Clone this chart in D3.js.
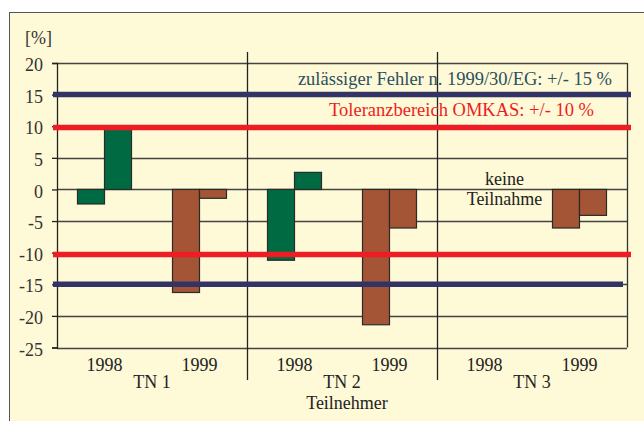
<!DOCTYPE html>
<html>
<head>
<meta charset="utf-8">
<script src="https://cdn.jsdelivr.net/npm/d3@7"></script>
<style>
  body { margin: 0; background: #fff; }
  svg text { font-family: "Liberation Serif", "Times New Roman", serif; }
</style>
</head>
<body>
<svg id="chart" width="644" height="421"></svg>
<script>
'use strict';
/*
 *	Data
 */
var groups = ["TN 1", "TN 2", "TN 3"];
var years = ["1998", "1999"];
// first and second bar of each year (null = keine Teilnahme)
var barA = [-2.3, -16.3, -11.2, -21.4, null, -6.1];
var barB = [9.5, -1.4, 2.7, -6.1, null, -4.1];
var yTicks = [20, 15, 10, 5, 0, -5, -10, -15, -20, -25];
var limitBlue = [15, -15];
var limitRed = [9.8, -10.3];

var yearColor = { "1998": "#006b43", "1999": "#a45535" };

// category list built from groups x years
var cats = [];
groups.forEach(function(g, gi){
	years.forEach(function(y, yi){
		var i = gi * years.length + yi;
		cats.push({ key: g + "|" + y, group: g, year: y, a: barA[i], b: barB[i] });
	});
});

/*
 *	Setup
 */
var svg = d3.select("#chart");
var pLeft = 57, pRight = 627, pTop = 63, pBottom = 347.5;
var fs = 18;

var x = d3.scaleBand().domain(cats.map(function(d){ return d.key; })).range([pLeft, pRight]);
var y = d3.scaleLinear().domain([-25, 20]).range([pBottom, pTop]);

// frame + background
svg.append("rect").attr("x", 9.5).attr("y", 12.5).attr("width", 660).attr("height", 420)
	.attr("fill", "#fef9d6").attr("stroke", "#555").attr("stroke-width", 1);

// gridlines
svg.append("g").selectAll("line").data(yTicks).enter().append("line")
	.attr("x1", pLeft).attr("x2", pRight)
	.attr("y1", function(d){ return Math.round(y(d)) + 0.5; })
	.attr("y2", function(d){ return Math.round(y(d)) + 0.5; })
	.attr("stroke", "#444").attr("stroke-width", 1.3);

// y axis (plain hyphen for negatives)
var yAxis = d3.axisLeft(y).tickValues(yTicks).tickSize(5).tickPadding(9)
	.tickFormat(function(d){ return String(d); });
var gy = svg.append("g").attr("transform", "translate(" + pLeft + ",0)").call(yAxis);
gy.select(".domain").attr("stroke", "#222").attr("stroke-width", 1.3);
gy.selectAll(".tick line").attr("stroke", "#222").attr("stroke-width", 1.3);
gy.selectAll(".tick text").attr("font-size", fs).attr("fill", "#333").attr("dy", "0.42em");

// right edge
svg.append("line").attr("x1", pRight + 0.5).attr("x2", pRight + 0.5).attr("y1", pTop).attr("y2", pBottom)
	.attr("stroke", "#333").attr("stroke-width", 1.3);

// group separators
var seps = [cats[2].key, cats[4].key];
svg.append("g").selectAll("line").data(seps).enter().append("line")
	.attr("x1", function(d){ return Math.round(x(d)) + 0.5; })
	.attr("x2", function(d){ return Math.round(x(d)) + 0.5; })
	.attr("y1", 52).attr("y2", 380)
	.attr("stroke", "#222").attr("stroke-width", 1.3);

/*
 *	Bars
 */
var bw = 27;
var barData = [];
cats.forEach(function(d){
	if (d.a !== null) barData.push({ key: d.key, year: d.year, v: d.a, off: -bw });
	if (d.b !== null) barData.push({ key: d.key, year: d.year, v: d.b, off: 0 });
});
svg.append("g").selectAll("rect").data(barData).enter().append("rect")
	.attr("x", function(d){ return x(d.key) + x.bandwidth() / 2 + d.off; })
	.attr("width", bw)
	.attr("y", function(d){ return y(Math.max(0, d.v)); })
	.attr("height", function(d){ return Math.abs(y(d.v) - y(0)); })
	.attr("fill", function(d){ return yearColor[d.year]; })
	.attr("stroke", "#2a2a2a").attr("stroke-width", 1.2);

/*
 *	Limit lines
 */
var lines = [
	{ v: limitBlue[0], c: "#333366", x2: pRight + 4 },
	{ v: limitRed[0], c: "#ee1c25", x2: pRight + 4 },
	{ v: limitRed[1], c: "#ee1c25", x2: pRight + 4 },
	{ v: limitBlue[1], c: "#333366", x2: pRight - 4 }
];
svg.append("g").selectAll("line").data(lines).enter().append("line")
	.attr("x1", pLeft - 4).attr("x2", function(d){ return d.x2; })
	.attr("y1", function(d){ return y(d.v); }).attr("y2", function(d){ return y(d.v); })
	.attr("stroke", function(d){ return d.c; }).attr("stroke-width", 5.5);

svg.append("text").attr("x", 612).attr("y", y(limitBlue[0]) - 10)
	.attr("text-anchor", "end").attr("font-size", fs + 0.5).attr("fill", "#2b5060")
	.text("zulässiger Fehler n. 1999/30/EG: +/- 15 %");
svg.append("text").attr("x", 594).attr("y", y(limitRed[0]) - 11)
	.attr("text-anchor", "end").attr("font-size", fs + 0.5).attr("fill", "#ee1c25")
	.text("Toleranzbereich OMKAS: +/- 10 %");

// keine Teilnahme
var kx = x(cats[4].key) + x.bandwidth() / 2 + 20;
svg.append("text").attr("x", kx).attr("y", 185).attr("text-anchor", "middle")
	.attr("font-size", fs).attr("fill", "#222").text("keine");
svg.append("text").attr("x", kx).attr("y", 205).attr("text-anchor", "middle")
	.attr("font-size", fs).attr("fill", "#222").text("Teilnahme");

/*
 *	Category labels
 */
svg.append("g").selectAll("text").data(cats).enter().append("text")
	.attr("x", function(d){ return x(d.key) + x.bandwidth() / 2; })
	.attr("y", 371).attr("text-anchor", "middle")
	.attr("font-size", fs).attr("fill", "#222")
	.text(function(d){ return d.year; });

svg.append("g").selectAll("text").data(groups).enter().append("text")
	.attr("x", function(d, i){
		var k0 = cats[i * 2].key, k1 = cats[i * 2 + 1].key;
		return (x(k0) + x(k1) + x.bandwidth()) / 2;
	})
	.attr("y", 388).attr("text-anchor", "middle")
	.attr("font-size", fs).attr("fill", "#222")
	.text(function(d){ return d; });

svg.append("text").attr("x", (pLeft + pRight) / 2 + 5).attr("y", 409).attr("text-anchor", "middle")
	.attr("font-size", fs).attr("fill", "#222").text("Teilnehmer");

svg.append("text").attr("x", 25).attr("y", 44)
	.attr("font-size", fs).attr("fill", "#333").text("[%]");
</script>
</body>
</html>
